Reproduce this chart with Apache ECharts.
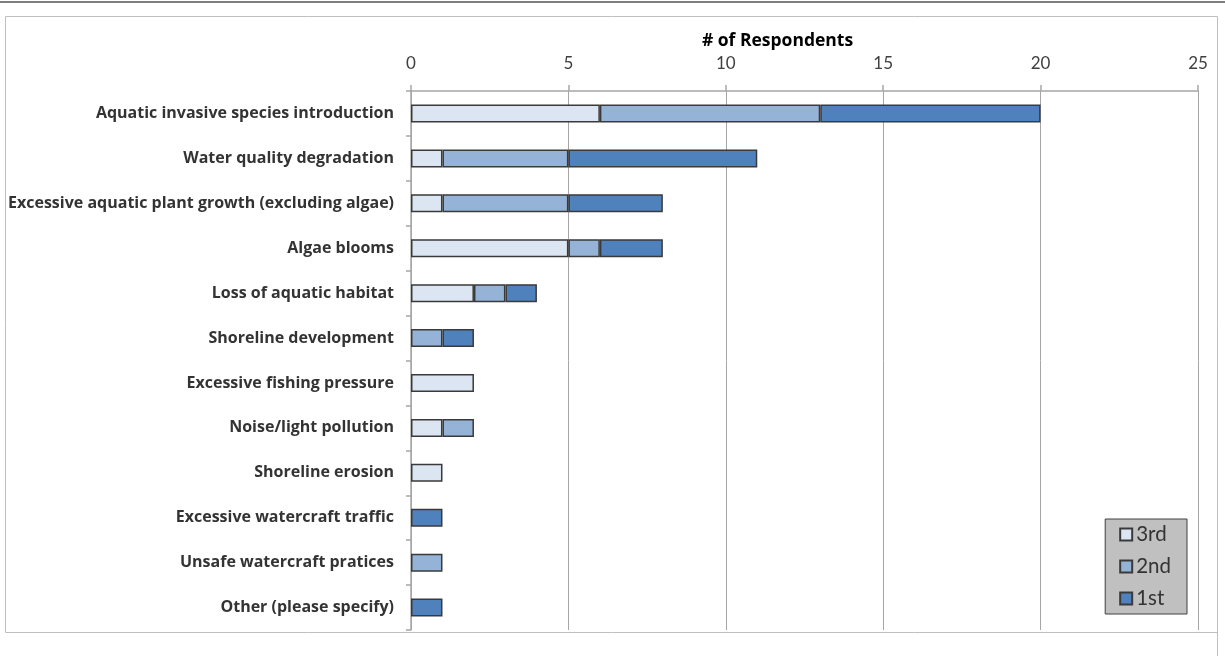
<!DOCTYPE html>
<html>
<head>
<meta charset="utf-8">
<script src="https://cdn.jsdelivr.net/npm/echarts@6/dist/echarts.min.js"></script>
<style>
html,body{margin:0;padding:0;background:#fff;}
#c{width:1225px;height:656px;}
</style>
</head>
<body>
<div id="c"></div>
<script>
const categories = [
  "Aquatic invasive species introduction",
  "Water quality degradation",
  "Excessive aquatic plant growth (excluding algae)",
  "Algae blooms",
  "Loss of aquatic habitat",
  "Shoreline development",
  "Excessive fishing pressure",
  "Noise/light pollution",
  "Shoreline erosion",
  "Excessive watercraft traffic",
  "Unsafe watercraft pratices",
  "Other (please specify)"
];
const third  = [6, 1, 1, 5, 2, 0, 2, 1, 1, 0, 0, 0];
const second = [7, 4, 4, 1, 1, 1, 0, 1, 0, 0, 1, 0];
const first  = [7, 6, 3, 2, 1, 1, 0, 0, 0, 1, 0, 1];
const seriesNames = ["3rd", "2nd", "1st"];
const axisName = "# of Respondents";

const colors = ["#dce6f2", "#95b3d7", "#4f81bd"];
const font = "Lato, 'Open Sans', sans-serif";
const bfont = "'Open Sans', Lato, sans-serif";

function mk(name, data, color) {
  return {
    name: name,
    type: 'bar',
    stack: 'total',
    barWidth: 18,
    data: data.map(v => v === 0 ? null : v),
    itemStyle: { color: color, borderColor: '#3a3a3a', borderWidth: 1.5 },
    emphasis: { disabled: true }
  };
}

const chart = echarts.init(document.getElementById('c'), null, { renderer: 'canvas' });
chart.setOption({
  animation: false,
  backgroundColor: '#fff',
  graphic: [
    { type: 'rect', shape: { x: 0, y: 1, width: 1225, height: 2 }, style: { fill: '#7f7f7f' }, silent: true },
    { type: 'rect', shape: { x: 5.5, y: 16.5, width: 1212, height: 616 }, style: { fill: 'none', stroke: '#bfbfbf', lineWidth: 1 }, silent: true, z: -1 },
    { type: 'line', shape: { x1: 1217.5, y1: 632, x2: 1217.5, y2: 656 }, style: { stroke: '#bfbfbf', lineWidth: 1 }, silent: true }
  ],
  grid: { left: 411, right: 27, top: 91, bottom: 26, containLabel: false },
  legend: {
    orient: 'vertical',
    right: 38,
    top: 519,
    data: seriesNames,
    backgroundColor: '#c0c0c0',
    borderColor: '#404040',
    borderWidth: 1,
    padding: [5, 16, 5, 14],
    itemGap: 11,
    itemWidth: 12,
    itemHeight: 12,
    icon: 'rect',
    textStyle: { fontFamily: font, fontSize: 20.5, color: '#333', padding: [0, 0, 0, -1] }
  },
  xAxis: {
    type: 'value',
    position: 'top',
    min: 0, max: 25, interval: 5,
    name: axisName,
    nameLocation: 'middle',
    nameGap: 41,
    nameTextStyle: { fontFamily: bfont, fontSize: 17.5, fontWeight: 'bold', color: '#000', padding: [0, 54, 0, 0] },
    axisLine: { show: true, lineStyle: { color: '#a6a6a6', width: 1.5 } },
    axisTick: { show: true, inside: false, length: 6, lineStyle: { color: '#a6a6a6', width: 1.5 } },
    axisLabel: { fontFamily: font, fontSize: 17, color: '#404040', margin: 19 },
    splitLine: { show: true, lineStyle: { color: '#a6a6a6', width: 1 } }
  },
  yAxis: {
    type: 'category',
    inverse: true,
    data: categories,
    axisLine: { show: true, lineStyle: { color: '#a6a6a6', width: 1.5 } },
    axisTick: { show: true, length: 5, lineStyle: { color: '#a6a6a6', width: 1.5 } },
    axisLabel: { fontFamily: bfont, fontSize: 16, fontWeight: 'bold', color: '#333', margin: 17 }
  },
  series: [
    mk(seriesNames[0], third, colors[0]),
    mk(seriesNames[1], second, colors[1]),
    mk(seriesNames[2], first, colors[2])
  ]
});
</script>
</body>
</html>
